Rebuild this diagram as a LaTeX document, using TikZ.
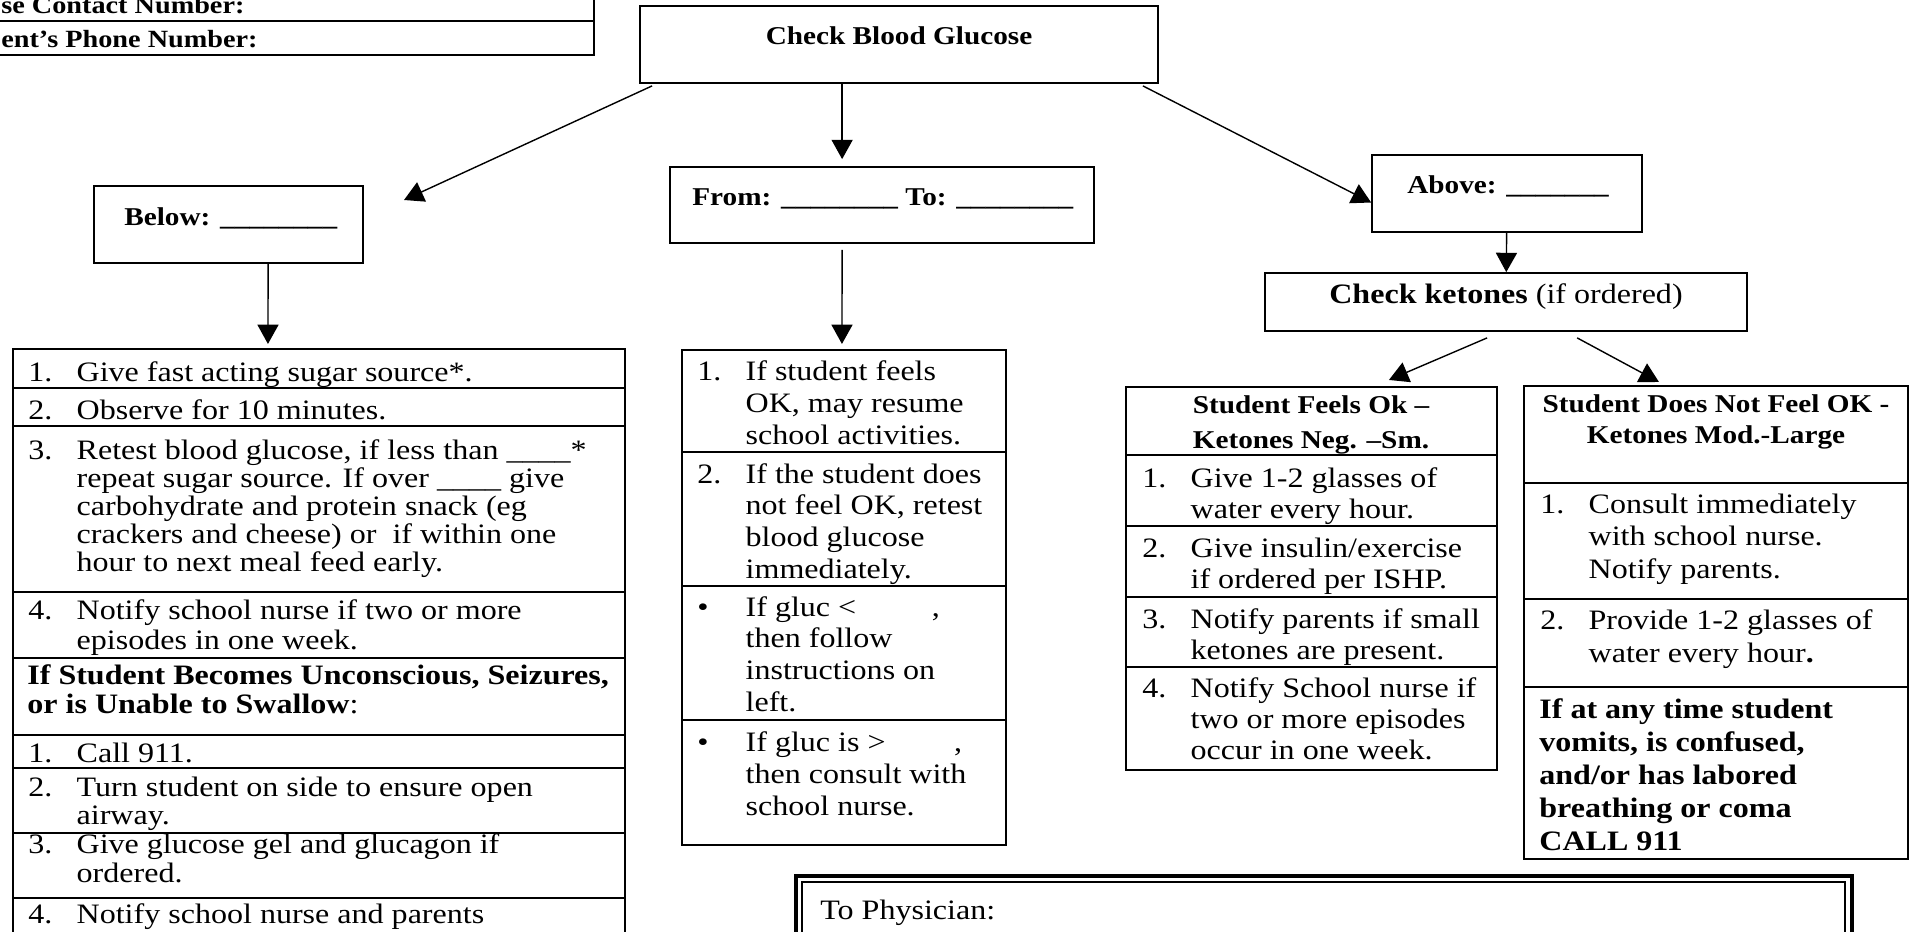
\documentclass[tikz,border=0pt]{standalone}
\usepackage{fontspec}
\setmainfont{Liberation Serif}[FakeStretch=1.14]
\usepackage{tikz}
\usetikzlibrary{arrows.meta, calc, fit, positioning}
\newcommand{\itm}[1]{\makebox[27.5pt][l]{#1}}
\newcommand{\cont}{\hspace*{27.5pt}}
\tikzset{
x=0.02cm, y=-0.02cm, % one unit is one pixel of the sheet, y runs down
>={Triangle[length=11pt,width=12pt]}, % filled arrow heads
box/.style={draw, line width=1pt, inner sep=0pt}, % plain outline of a box
tbl/.style={draw, line width=1.2pt, inner sep=0pt}, % outline of a table
cell/.style={line width=1.2pt}, % rules between table rows
head/.style={inner sep=0pt, anchor=base west, font={\bfseries\fontsize{14.6}{19.8}\selectfont}}, % box titles
txt/.style={inner sep=0pt, anchor=base west, align=left, font={\fontsize{16}{#1}\selectfont}}, % list text, placed by its last line
txt/.default=18,
}
\begin{document}
\begin{tikzpicture}
        \useasboundingbox (0,0) rectangle (1911,931);
        \clip (0,0) rectangle (1911,931);

        % phone numbers
        \node[tbl, fit={(-20,-20) (594,55)}] (phones) {};
        \draw[cell] (-20,21) -- (594,21);
        \node[head, font={\bfseries\fontsize{14.1}{14.1}\selectfont}] (nursenum) at (1,13) {se Contact Number:};
        \node[head, font={\bfseries\fontsize{14.1}{14.1}\selectfont}] (parentnum) at (1,47) {ent’s Phone Number:};

        % top boxes
        \node[box, fit={(640,6) (1158,83)}] (cbg) {};
        \node[head, anchor=base] (cbgtext) at (899,44) {Check Blood Glucose};
        \node[box, fit={(94,186) (363,263)}] (below) {};
        \node[head] (belowtext) at (124,225) {Below: \_\_\_\_\_\_\_\_};
        \node[box, fit={(670,167) (1094,243)}] (fromto) {};
        \node[head] (fromtotext) at (692,205) {From: \_\_\_\_\_\_\_\_ To: \_\_\_\_\_\_\_\_};
        \node[box, fit={(1372,155) (1642,232)}] (above) {};
        \node[head] (abovetext) at (1407,193) {Above: \_\_\_\_\_\_\_};
        \node[box, fit={(1265,273) (1747,331)}] (ketones) {};
        \node[txt, anchor=base] (ketonestext) at (1506,303) {\textbf{Check ketones} (if ordered)};
        \coordinate (belowin) at (404,200);

        % low list
        \node[tbl, fit={(13,349) (625,960)}] (lowlist) {};
        \foreach \y in {388,426,592,658,735,768,833,898}
            \draw[cell] (13,\y) -- (625,\y);
        \node[txt=15.9] (low1) at (28,381) {\itm{1.}Give fast acting sugar source*.};
        \node[txt=15.9] (low2) at (28,419) {\itm{2.}Observe for 10 minutes.};
        \node[txt=15.9] (low3) at (28,571) {\itm{3.}Retest blood glucose, if less than \_\_\_\_*\\
            \cont repeat sugar source. If over \_\_\_\_ give\\
            \cont carbohydrate and protein snack (eg\\
            \cont crackers and cheese) or~ if within one\\
            \cont hour to next meal feed early.};
        \node[txt=16.9] (low4) at (28,649) {\itm{4.}Notify school nurse if two or more\\
            \cont episodes in one week.};
        \node[txt=16.4] (lowhead) at (27,713) {\textbf{If Student Becomes Unconscious, Seizures,}\\
            \textbf{or is Unable to Swallow}:};
        \node[txt=15.9] (low5) at (28,762) {\itm{1.}Call 911.};
        \node[txt=15.9] (low6) at (28,824) {\itm{2.}Turn student on side to ensure open\\
            \cont airway.};
        \node[txt=16.4] (low7) at (28,882) {\itm{3.}Give glucose gel and glucagon if\\
            \cont ordered.};
        \node[txt=15.9] (low8) at (28,923) {\itm{4.}Notify school nurse and parents};

        % middle list
        \node[tbl, fit={(682,350) (1006,845)}] (midlist) {};
        \foreach \y in {452,586,720}
            \draw[cell] (682,\y) -- (1006,\y);
        \node[txt] (mid1) at (697,444) {\itm{1.}If student feels\\
            \cont OK, may resume\\
            \cont school activities.};
        \node[txt] (mid2) at (697,578) {\itm{2.}If the student does\\
            \cont not feel OK, retest\\
            \cont blood glucose\\
            \cont immediately.};
        \node[txt] (mid3) at (697,711) {\itm{\textbullet}If gluc <\hspace{43pt},\\
            \cont then follow\\
            \cont instructions on\\
            \cont left.};
        \node[txt] (mid4) at (697,815) {\itm{\textbullet}If gluc is >\hspace{39pt},\\
            \cont then consult with\\
            \cont school nurse.};

        % feels ok list
        \node[tbl, fit={(1126,387) (1497,770)}] (feels) {};
        \foreach \y in {455,526,597,667}
            \draw[cell] (1126,\y) -- (1497,\y);
        \node[head, anchor=base, align=center] (feelshead) at (1311,448) {Student Feels Ok –\\Ketones Neg. –Sm.};
        \node[txt=17.6] (feels1) at (1142,518) {\itm{1.}Give 1-2 glasses of\\
            \cont water every hour.};
        \node[txt=17.6] (feels2) at (1142,588) {\itm{2.}Give insulin/exercise\\
            \cont if ordered per ISHP.};
        \node[txt=17.6] (feels3) at (1142,659) {\itm{3.}Notify parents if small\\
            \cont ketones are present.};
        \node[txt=17.6] (feels4) at (1142,759) {\itm{4.}Notify School nurse if\\
            \cont two or more episodes\\
            \cont occur in one week.};

        % not feel ok list
        \node[tbl, fit={(1524,386) (1908,859)}] (notfeel) {};
        \foreach \y in {483,599,687}
            \draw[cell] (1524,\y) -- (1908,\y);
        \node[head, anchor=base, align=center, font={\bfseries\fontsize{14.6}{17.6}\selectfont}] (notfeelhead) at (1716,443) {Student Does Not Feel OK -\\Ketones Mod.-Large};
        \node[txt=18.4] (notfeel1) at (1540,578) {\itm{1.}Consult immediately\\
            \cont with school nurse.\\
            \cont Notify parents.};
        \node[txt=18.4] (notfeel2) at (1540,662) {\itm{2.}Provide 1-2 glasses of\\
            \cont water every hour\textbf{.}};
        \node[txt=18.7, font={\bfseries\fontsize{16}{18.7}\selectfont}] (notfeel3) at (1539,850) {If at any time student\\
            vomits, is confused,\\
            and/or has labored\\
            breathing or coma\\
            CALL 911};

        % physician box
        \node[box, line width=1.8pt, fit={(796,876) (1852,990)}] (physician) {};
        \draw[line width=0.8pt] (802,882) rectangle (1845,990);
        \node[txt] (physiciantext) at (820,919) {To Physician:};

        \draw[line width=0.8pt]
              ($(cbg.south west)+(13,2)$) edge[->] (belowin)
              ($(cbg.south west)+(203,0)$) edge[->] ($(fromto.north west)+(173,-7)$)
              ($(cbg.south east)+(-16,2)$) edge[->] ($(above.west)+(0,9)$)
              (above) edge[->] (ketones)
              ($(ketones.south west)+(223,6)$) edge[->] ($(feels.north west)+(264,-6)$)
              ($(ketones.south west)+(313,6)$) edge[->] ($(notfeel.north west)+(136,-3)$)
              ($(below.south west)+(175,0)$) edge[->] ($(lowlist.north west)+(256,-4)$)
              ($(fromto.south west)+(173,6)$) edge[->] ($(midlist.north west)+(161,-5)$);
    \end{tikzpicture}
\end{document}
